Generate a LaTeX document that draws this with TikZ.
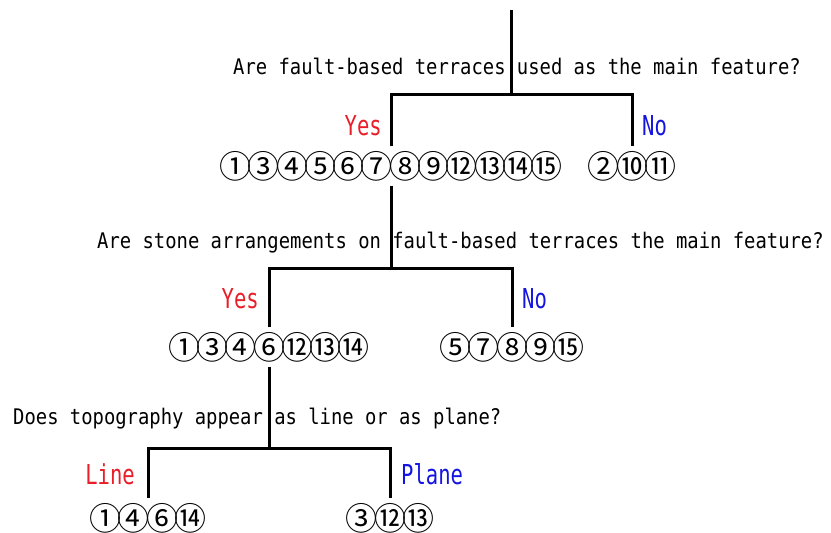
\documentclass[tikz,border=0pt]{standalone}
\usepackage{fontspec}
\newfontfamily\qfont[FakeStretch=0.877]{DejaVu Sans Mono}
\newfontfamily\lfont[FakeStretch=0.75]{DejaVu Sans Mono}
\newfontfamily\cfont[LetterSpace=-11.6]{Noto Sans CJK JP}
\definecolor{yesred}{RGB}{232,30,40}
\definecolor{noblue}{RGB}{20,20,225}
\tikzset{
  question/.style={anchor=base west, inner sep=0pt, font=\qfont\fontsize{21.5pt}{24pt}\selectfont},
  yeslabel/.style={anchor=base east, inner sep=0pt, text=yesred, font=\lfont\fontsize{27.4pt}{30pt}\selectfont},
  nolabel/.style={anchor=base west, inner sep=0pt, text=noblue, font=\lfont\fontsize{27.4pt}{30pt}\selectfont},
  group/.style={inner xsep=0pt, inner ysep=3.5pt, font=\cfont\fontsize{32pt}{34pt}\selectfont, text height=28.2pt, text depth=3.8pt},
  branch/.style={line width=3pt, line join=miter},
}
\begin{document}
\begin{tikzpicture}[x=1pt,y=-1pt]
\useasboundingbox (0,0) rectangle (831,533);
% questions
\node[question] (q1) at (233,74) {Are fault-based terraces used as the main feature?};
\node[question] (q2) at (97,248) {Are stone arrangements on fault-based terraces the main feature?};
\node[question] (q3) at (13,424) {Does topography appear as line or as plane?};
% answer labels
\node[yeslabel] (y1) at (382,135) {Yes};
\node[nolabel]  (n1) at (642,135) {No};
\node[yeslabel] (y2) at (259,308) {Yes};
\node[nolabel]  (n2) at (522,308) {No};
\node[yeslabel] (y3) at (135,484) {Line};
\node[nolabel]  (n3) at (401,484) {Plane};
% groups
\node[group] (g1a) at (391,166) {①③④⑤⑥⑦⑧⑨⑫⑬⑭⑮};
\node[group] (g1b) at (632,166) {②⑩⑪};
\node[group] (g2a) at (269,347) {①③④⑥⑫⑬⑭};
\node[group] (g2b) at (512,347) {⑤⑦⑧⑨⑮};
\node[group] (g3a) at (148,518) {①④⑥⑭};
\node[group] (g3b) at (390,518) {③⑫⑬};
% junctions
\coordinate (top) at (511,10);
\coordinate (j1) at (511,94);
\coordinate (j2) at (391,268);
\coordinate (j3) at (269,448);
% connectors
\draw[branch] (top) -- (j1);
\draw[branch] (g1a.north) |- (j1) -| (g1b.north);
\draw[branch] (g1a.south) -- (j2);
\draw[branch] (g2a.north) |- (j2) -| (g2b.north);
\draw[branch] (g2a.south) -- (j3);
\draw[branch] (g3a.north) |- (j3) -| (g3b.north);
\end{tikzpicture}
\end{document}
